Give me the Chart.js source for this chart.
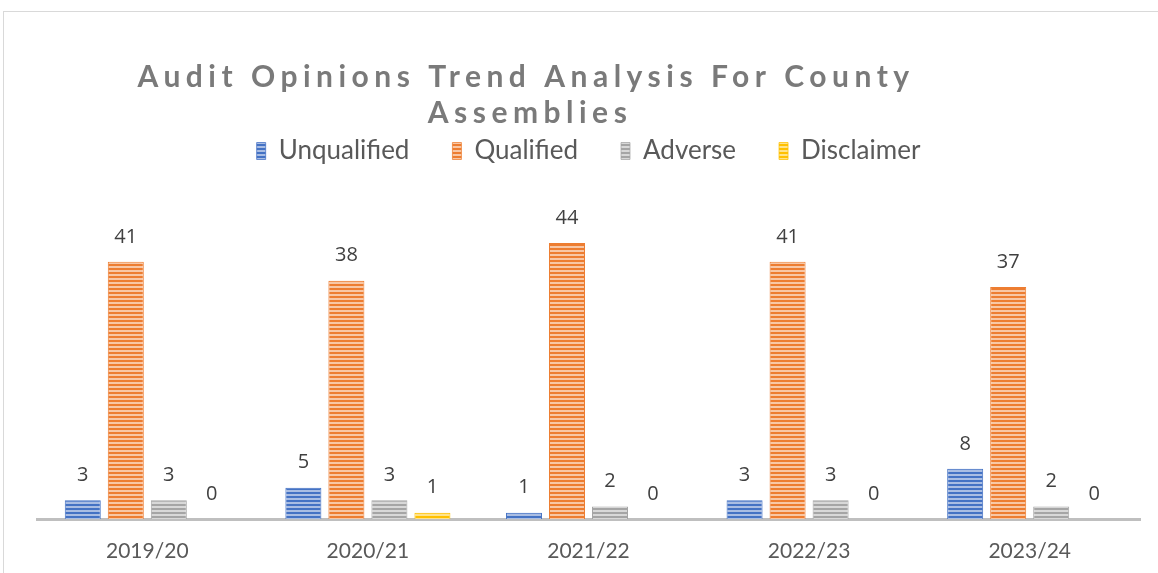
<!DOCTYPE html>
<html>
<head>
<meta charset="utf-8">
<title>Audit Opinions Trend Analysis For County Assemblies</title>
<script src="https://cdn.jsdelivr.net/npm/chart.js@4.4.1/dist/chart.umd.min.js"></script>
<style>
	html, body { margin: 0; padding: 0; background: #ffffff; overflow: hidden; }
	#wrap { position: relative; width: 1158px; height: 573px; }
	#frame { position: absolute; left: 3px; top: 11px; width: 1200px; height: 600px; border-left: 1px solid #d9d9d9; border-top: 1px solid #d9d9d9; }
	#chart { position: absolute; left: 0; top: 0; }
</style>
</head>
<body>
<div id="wrap">
	<div id="frame"></div>
	<canvas id="chart" width="1158" height="573"></canvas>
</div>
<script>
var years = ['2019/20', '2020/21', '2021/22', '2022/23', '2023/24'];
var unqualified = [3, 5, 1, 3, 8];
var qualified = [41, 38, 44, 41, 37];
var adverse = [3, 3, 2, 3, 2];
var disclaimer = [0, 1, 0, 0, 0];
var titleLines = ['Audit Opinions Trend Analysis For County', 'Assemblies'];

// striped fill like the office "narrow horizontal" pattern
function stripes(color, light){
	var c = document.createElement('canvas');
	c.width = 4;
	c.height = 4;
	var g = c.getContext('2d');
	g.fillStyle = light;
	g.fillRect(0, 0, 4, 4);
	g.fillStyle = color;
	g.fillRect(0, 0, 4, 2);
	return g.createPattern(c, 'repeat');
}

var seriesDefs = [
	{ label: 'Unqualified', data: unqualified, color: '#4472c4', light: '#a9bde3' },
	{ label: 'Qualified', data: qualified, color: '#ed7d31', light: '#f8c7a5' },
	{ label: 'Adverse', data: adverse, color: '#a5a5a5', light: '#d8d8d8' },
	{ label: 'Disclaimer', data: disclaimer, color: '#ffc000', light: '#ffe38a' }
];

var datasets = seriesDefs.map(function(s){
	return {
		label: s.label,
		data: s.data,
		backgroundColor: stripes(s.color, s.light),
		borderColor: s.color,
		borderWidth: { left: 1, right: 1, top: 1, bottom: 0 },
		barPercentage: 0.837,
		categoryPercentage: 0.78
	};
});

// spaced-out title, drawn by hand since the title plugin has no letter spacing
var titlePlugin = {
	id: 'spacedTitle',
	afterDraw: function(chart){
		var ctx = chart.ctx;
		ctx.save();
		ctx.font = 'bold 30px Lato';
		ctx.fillStyle = '#7a7a7a';
		ctx.textAlign = 'center';
		ctx.textBaseline = 'middle';
		if ('letterSpacing' in ctx) ctx.letterSpacing = '5.5px';
		ctx.fillText(titleLines[0], 526, 77);
		ctx.fillText(titleLines[1], 530, 113);
		ctx.restore();
	}
};

// value above each bar
var valuePlugin = {
	id: 'valueLabels',
	afterDatasetsDraw: function(chart){
		var ctx = chart.ctx;
		ctx.save();
		ctx.font = '20px "Open Sans"';
		ctx.fillStyle = '#404040';
		ctx.textAlign = 'center';
		ctx.textBaseline = 'middle';
		chart.data.datasets.forEach(function(ds, i){
			chart.getDatasetMeta(i).data.forEach(function(bar, j){
				ctx.fillText(ds.data[j], bar.x, bar.y - 25);
			});
		});
		ctx.restore();
	}
};

var ctx = document.getElementById('chart').getContext('2d');
var myChart = new Chart(ctx, {
	type: 'bar',
	data: {
		labels: years,
		datasets: datasets
	},
	plugins: [titlePlugin, valuePlugin],
	options: {
		responsive: false,
		animation: false,
		layout: {
			padding: { top: 95, left: 37, right: 18, bottom: 0 }
		},
		plugins: {
			title: { display: false },
			tooltip: { enabled: false },
			legend: {
				position: 'top',
				labels: {
					boxWidth: 9,
					boxHeight: 17,
					padding: 43,
					color: '#595959',
					font: { family: 'Lato', size: 26 }
				}
			}
		},
		scales: {
			x: {
				grid: { display: false, drawTicks: false },
				border: { color: '#bfbfbf', width: 3 },
				ticks: {
					color: '#595959',
					padding: 20,
					font: { family: 'Lato', size: 21 }
				},
				afterFit: function(scale){
					scale.height = 54;
				}
			},
			y: {
				display: false,
				min: 0,
				max: 55
			}
		}
	}
});
</script>
</body>
</html>
